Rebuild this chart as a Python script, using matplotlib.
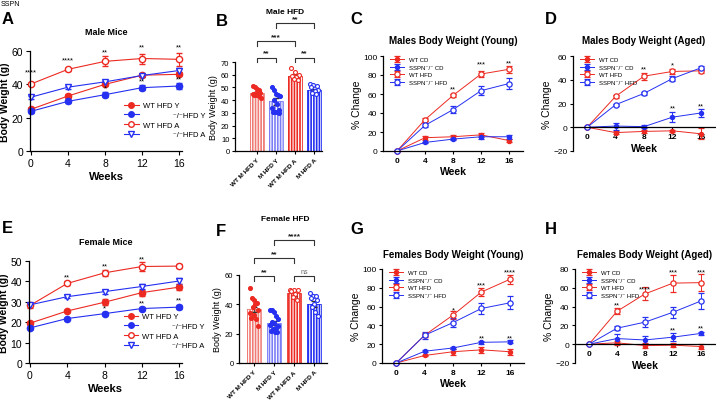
import matplotlib
matplotlib.use("Agg")
import matplotlib.pyplot as plt
import numpy as np
from matplotlib.lines import Line2D

plt.rcParams['font.family'] = ['Liberation Sans', 'DejaVu Sans']
plt.rcParams['hatch.linewidth'] = 0.8
plt.rcParams['axes.linewidth'] = 0.9

RED = '#ec2a22'
BLUE = '#2530f0'
LRED = '#f07a74'
LBLUE = '#7a7df5'

weeks = [0, 4, 8, 12, 16]

# A - male mice body weight (g)
a_wt_y = [25.0, 33.0, 40.0, 45.5, 46.0]
a_ko_y = [23.8, 29.8, 33.8, 38.0, 39.0]
a_wt_a = [40.2, 49.0, 53.8, 55.5, 55.0]
a_ko_a = [32.3, 38.3, 41.5, 45.3, 48.3]
a_wt_y_err = [1.0, 1.0, 1.2, 1.0, 1.2]
a_ko_y_err = [0.8, 0.8, 1.5, 1.5, 2.0]
a_wt_a_err = [0.8, 0.8, 3.0, 3.0, 4.0]
a_ko_a_err = [0.8, 0.8, 0.8, 0.8, 1.5]
a_stars = [(0, 47.6, '****'), (4, 54.6, '****'), (8, 59.6, '**'), (12, 62.2, '**'),
           (16, 62.2, '**'), (8, 37.8, '*'), (12, 42.2, '**'), (16, 43.2, '**')]

# E - female mice body weight (g)
e_wt_y = [19.5, 25.5, 29.8, 34.5, 37.2]
e_ko_y = [17.2, 21.8, 24.2, 26.7, 27.4]
e_wt_a = [28.2, 39.0, 44.2, 47.3, 47.5]
e_ko_a = [28.5, 32.5, 35.0, 37.5, 40.2]
e_wt_y_err = [0.7, 0.7, 1.5, 1.5, 1.5]
e_ko_y_err = [0.5, 0.5, 0.7, 0.7, 1.0]
e_wt_a_err = [1.0, 1.0, 1.5, 2.0, 0.8]
e_ko_a_err = [0.8, 0.8, 1.0, 1.0, 1.5]
e_stars = [(4, 42.0, '**'), (8, 47.7, '**'), (12, 51.0, '**'),
           (8, 26.8, '*'), (12, 29.7, '**'), (16, 30.9, '**')]

ae_labels = ['WT HFD Y', '              \u207b/\u207bHFD Y', 'WT HFD A',
             '              \u207b/\u207bHFD A']

# B / F - bar charts
bar_labels = ['WT M HFD Y', 'M HFD Y', 'WT M HFD A', 'M HFD A']
b_means = [45.5, 39.0, 59.0, 48.0]
b_err = [1.0, 2.5, 1.2, 1.0]
b_pts = [[51, 50, 49, 48, 47, 46, 46, 45, 44, 44, 43, 42],
         [50, 48, 45, 44, 43, 40, 37, 34, 32, 31, 31, 31, 30],
         [65, 62, 60, 59, 58, 57, 56],
         [53, 52, 51, 50, 48, 47, 46, 45]]
f_means = [36.5, 27.4, 47.5, 40.0]
f_err = [2.0, 1.5, 1.5, 2.0]
f_pts = [[51, 44, 43, 41, 40, 38, 36, 34, 33, 31, 30, 25],
         [36, 36, 35, 32, 30, 28, 27, 26, 25, 24, 23, 22, 21, 21],
         [50, 50, 50, 49, 47, 45, 43],
         [48, 46, 46, 44, 43, 40, 38, 35, 32]]

# C, D, G, H - % change
pc_labels = ['WT CD', 'SSPN\u207b/\u207b CD', 'WT HFD', 'SSPN\u207b/\u207b HFD']
c_vals = [[0, 14, 15, 17, 11], [0, 9, 12.5, 15, 15],
          [0, 33, 58.5, 81, 86], [0, 27, 43.5, 63.5, 71]]
c_errs = [[0, 2, 2, 2, 2], [0, 1, 1, 2, 2], [0, 1.5, 2, 3, 4], [0, 2, 4, 5, 6]]
c_stars = [(8, 65, '**'), (12, 92, '***'), (16, 93, '**')]
d_vals = [[0, -4.5, -3.5, -3, -5.5], [0, 1, 0.5, 8.5, 12],
          [0, 26, 43, 47, 47.5], [0, 19, 28.5, 41, 50]]
d_errs = [[0, 1, 1, 1, 4.5], [0, 3, 1, 4, 3.5], [0, 1, 3, 2, 1.5], [0, 1, 1, 2, 1.5]]
d_stars = [(8, 49, '**'), (12, 52.7, '*'), (12, 16, '**'), (16, 17.6, '**')]
g_vals = [[0, 8, 12, 14, 12], [0, 12.5, 16, 22, 22.5],
          [0, 29.5, 51, 75.5, 89], [0, 29.5, 43, 58, 64]]
g_errs = [[0, 1, 3, 3, 3], [0, 1, 1, 1.5, 1.5], [0, 2, 4, 4, 5], [0, 4, 5, 6, 7]]
g_stars = [(8, 57, '*'), (12, 83, '***'), (16, 97, '****'), (12, 27, '**'), (16, 27, '**')]
h_vals = [[0, 1.5, -1.5, -1, -2.5], [0, 6, 4.5, 7.5, 11.5],
          [0, 35, 53.5, 65, 65.5], [0, 17, 23.5, 34, 46]]
h_errs = [[0, 2, 3, 2, 3], [0, 5, 4.5, 4, 1.5], [0, 3, 7, 9, 9], [0, 2, 5, 6, 9]]
h_stars = [(4, 42, '**'), (8, 59, '****'), (12, 77, '***'), (16, 77, '***'),
           (12, 15, '**'), (16, 17, '**')]

W, H = 716, 402
fig = plt.figure(figsize=(W / 100, H / 100), dpi=100)


def rect(l, t, r, b):
    return [l / W, 1 - b / H, (r - l) / W, (b - t) / H]


def clean(ax):
    ax.spines['top'].set_visible(False)
    ax.spines['right'].set_visible(False)


def weight_panel(box, series, errs, ylim, yticks, title, stars):
    ax = fig.add_axes(rect(*box))
    clean(ax)
    styles = [('o', RED, RED), ('o', BLUE, BLUE), ('o', 'white', RED), ('v', 'white', BLUE)]
    for (m, fc, ec), y, e, lab in zip(styles, series, errs, ae_labels):
        ax.errorbar(weeks, y, yerr=e, color=ec, lw=0.8, marker=m, ms=4.5, mfc=fc, mec=ec,
                    mew=1.0, capsize=2.5, elinewidth=0.8, label=lab, clip_on=False)
    ax.set_xlim(-0.1, 16.3)
    ax.set_ylim(*ylim)
    ax.set_xticks(weeks)
    ax.set_yticks(yticks)
    ax.tick_params(labelsize=7.5, length=3, pad=2)
    ax.set_xlabel('Weeks', fontsize=8, fontweight='bold', labelpad=2)
    ax.set_ylabel('Body Weight (g)', fontsize=7.5, fontweight='bold', labelpad=1)
    ax.set_title(title, fontsize=6.5, fontweight='bold', pad=12)
    for x, y, s in stars:
        ax.text(x, y, s, ha='center', va='center', fontsize=5.5)
    handles = [Line2D([], [], color=ec, lw=0.8, marker=m, ms=4, mfc=fc, mec=ec)
               for m, fc, ec in styles]
    ax.legend(handles, ae_labels, loc='upper left', bbox_to_anchor=(0.62, 0.49), frameon=False,
              fontsize=5.5, handlelength=1.9, labelspacing=0.3, borderaxespad=0, borderpad=0,
              handletextpad=0.5)
    return ax


def bar_panel(box, means, errs, pts, xlim, ylim, yticks, brackets):
    ax = fig.add_axes(rect(*box))
    clean(ax)
    x = np.arange(4)
    fills = [LRED, LBLUE, RED, BLUE]
    ecs = [RED, BLUE, RED, BLUE]
    ax.bar(x, means, width=0.72, color=fills, edgecolor='white', hatch='||||||', lw=0, zorder=1)
    ax.bar(x, means, width=0.72, color='none', edgecolor=fills, lw=0.6, zorder=2)
    ax.errorbar(x, means, yerr=errs, fmt='none', ecolor='#333', elinewidth=0.6, capsize=2, zorder=3)
    for i, p in enumerate(pts):
        n = len(p)
        jit = np.linspace(-0.22, 0.22, n)[np.argsort(np.arange(n) % 3)]
        fc = ecs[i] if i < 2 else 'white'
        ax.scatter(i + jit, p, s=8, facecolor=fc, edgecolor=ecs[i], lw=0.8, zorder=4,
                   clip_on=False)
    ax.set_xlim(*xlim)
    ax.set_ylim(*ylim)
    ax.set_yticks(yticks)
    ax.set_xticks(x)
    ax.set_xticklabels(bar_labels, rotation=45, ha='right', rotation_mode='anchor',
                       fontsize=4.6, fontweight='bold')
    ax.tick_params(axis='y', labelsize=5.5, length=2.5, pad=1.5)
    ax.tick_params(axis='x', length=2.5, pad=2)
    ax.set_ylabel('Body Weight (g)', fontsize=6.5, labelpad=2)
    for i0, i1, yb, s, fs in brackets:
        yl = yb - 0.055 * ylim[1]
        ax.plot([i0, i0, i1, i1], [yl, yb, yb, yl], color='#333', lw=0.8, clip_on=False)
        ax.text((i0 + i1) / 2, yb + 0.01 * ylim[1], s, ha='center', va='bottom', fontsize=fs,
                fontweight='bold' if s != 'ns' else 'normal', color='#222' if s != 'ns' else '#666')
    return ax


def pct_panel(box, vals, errs, ylim, yticks, title, stars, zero_axis):
    ax = fig.add_axes(rect(*box))
    clean(ax)
    styles = [(RED, RED), (BLUE, BLUE), ('white', RED), ('white', BLUE)]
    for (fc, ec), y, e, lab in zip(styles, vals, errs, pc_labels):
        ax.errorbar(weeks, y, yerr=e, color=ec, lw=0.7, marker='o', ms=3.8 if fc == 'white' else 3,
                    mfc=fc, mec=ec, mew=0.9, capsize=2, elinewidth=0.7, label=lab, clip_on=False)
    ax.set_xlim(-2, 18)
    ax.set_ylim(*ylim)
    ax.set_xticks(weeks)
    ax.set_yticks(yticks)
    if zero_axis:
        ax.spines['bottom'].set_position(('data', 0))
    ax.tick_params(labelsize=6, length=2.5, pad=1.5)
    for lb in ax.get_xticklabels():
        lb.set_fontweight('bold')
    ax.set_xlabel('Week', fontsize=7.5, fontweight='bold', labelpad=2)
    ax.set_ylabel('% Change', fontsize=7.5, labelpad=1)
    ax.set_title(title, fontsize=7, fontweight='bold', pad=9)
    for x, y, s in stars:
        ax.text(x, y, s, ha='center', va='center', fontsize=5.5)
    ax.legend(loc='upper left', bbox_to_anchor=(0.05, 0.99), frameon=False, fontsize=4.3,
              handlelength=2.3, labelspacing=0.4, borderaxespad=0, borderpad=0, handletextpad=0.8)
    return ax


weight_panel((30, 52, 182, 152), [a_wt_y, a_ko_y, a_wt_a, a_ko_a],
             [a_wt_y_err, a_ko_y_err, a_wt_a_err, a_ko_a_err], (0, 60), [0, 20, 40, 60],
             'Male Mice', a_stars)
weight_panel((29, 262, 182, 364), [e_wt_y, e_ko_y, e_wt_a, e_ko_a],
             [e_wt_y_err, e_ko_y_err, e_wt_a_err, e_ko_a_err], (0, 50), [0, 10, 20, 30, 40, 50],
             'Female Mice', e_stars)

bar_panel((235, 63, 322, 152), b_means, b_err, b_pts, (-1.14, 3.42), (0, 70),
          [0, 10, 20, 30, 40, 50, 60, 70],
          [(0, 1, 73.5, '**', 6), (2, 3, 73.5, '**', 6), (0, 2, 86.8, '***', 6), (1, 3, 100.8, '**', 6)])
bar_panel((239, 276, 327, 364), f_means, f_err, f_pts, (-0.75, 3.65), (0, 60), [0, 20, 40, 60],
          [(0, 1, 59.3, '**', 6), (2, 3, 59.3, 'ns', 5), (0, 2, 71.6, '**', 6), (1, 3, 83.8, '****', 6)])

pct_panel((383, 57, 523, 152), c_vals, c_errs, (0, 100), [0, 20, 40, 60, 80, 100],
          'Males Body Weight (Young)', c_stars, False)
pct_panel((573, 57, 715, 152), d_vals, d_errs, (-20, 60), [-20, 0, 20, 40, 60],
          'Males Body Weight (Aged)', d_stars, True)
pct_panel((382, 270, 524, 364), g_vals, g_errs, (0, 100), [0, 20, 40, 60, 80, 100],
          'Females Body Weight (Young)', g_stars, False)
pct_panel((575, 270, 715, 364), h_vals, h_errs, (-20, 80), [-20, 0, 20, 40, 60, 80],
          'Females Body Weight (Aged)', h_stars, True)

# bar panel titles and panel letters
fig.text(285 / W, 1 - 12 / H, 'Male HFD', ha='center', va='center', fontsize=6, fontweight='bold')
fig.text(285 / W, 1 - 220 / H, 'Female HFD', ha='center', va='center', fontsize=6, fontweight='bold')
for lt, x, y in [('A', 2, 20), ('B', 216, 21), ('C', 350, 20), ('D', 545, 20),
                 ('E', 2, 229), ('F', 216, 232), ('G', 350, 230), ('H', 545, 230)]:
    fig.text(x / W, 1 - y / H, lt, ha='left', va='center', fontsize=12, fontweight='bold')
fig.text(1 / W, 1 - 4 / H, 'SSPN', ha='left', va='center', fontsize=5)

fig.savefig('out.png', dpi=100)
